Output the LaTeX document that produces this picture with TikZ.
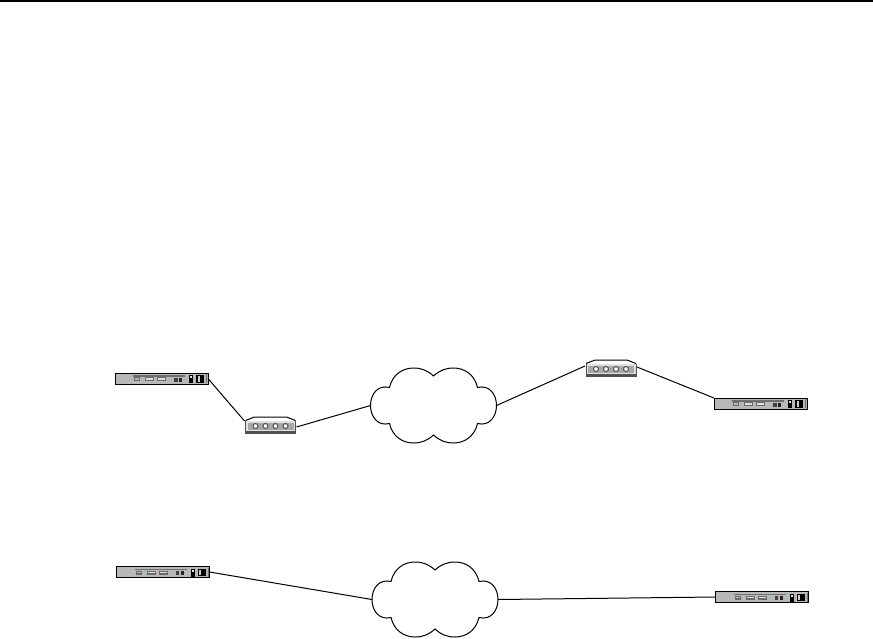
\documentclass[tikz,border=0pt]{standalone}
\usepackage{xcolor}
\usepackage{tikz}
\usetikzlibrary{calc}
\definecolor{boxgray}{HTML}{B8B8B8}
\definecolor{stripegray}{HTML}{6E6E6E}
\definecolor{portgray}{HTML}{6A6A6A}
\definecolor{portwhite}{HTML}{E0E0E0}
\definecolor{ledgreen}{HTML}{8FD08F}
\definecolor{hubgray}{HTML}{A8A8A8}
\definecolor{hubdark}{HTML}{505050}
\tikzstyle{link} = [line width=1pt, black]
\tikzstyle{router} = [rectangle, draw=black, line width=1pt, fill=boxgray, minimum width=93pt, minimum height=11pt, inner sep=0pt, outer sep=0pt,
  path picture={
    \begin{scope}[shift={(path picture bounding box.center)}]
      \fill[stripegray] (-28.5,-3.5) rectangle (23.5,-1.8);
      \fill[portgray] (-27.5,-1.2) rectangle (-21.5,2.8);
      \fill[boxgray] (-26.5,-0.2) rectangle (-22.5,1.2);
      \fill[portgray] (-16.5,-1.2) rectangle (-7.5,2.8);
      \fill[portwhite] (-15.5,-0.2) rectangle (-8.5,1.4);
      \fill[portgray] (-4.5,-1.2) rectangle (4.5,2.8);
      \fill[portwhite] (-3.5,-0.2) rectangle (3.5,1.4);
      \fill[ledgreen] (-20,0) rectangle (-18.5,1.5);
      \fill[ledgreen] (-6.5,0) rectangle (-5,1.5);
      \fill[ledgreen] (6,0) rectangle (7.5,1.5);
      \fill[black!75] (12.5,-1) rectangle (16,3);
      \fill[black!85] (17.5,-1) rectangle (20.5,3);
      \fill[ledgreen] (21.5,0) rectangle (23,1.5);
      \fill[black] (27.5,-3.5) rectangle (31.5,4.5);
      \fill[portwhite] (28.5,-2.5) rectangle (30.5,-0.5);
      \fill[black] (34.5,-3.5) rectangle (42.5,4);
      \fill[boxgray!70] (36,-2.5) rectangle (38,3);
      \fill[stripegray] (44.5,-4.5) rectangle (45.5,4.5);
    \end{scope}
  }]
\tikzstyle{hub} = [rectangle, minimum width=52pt, minimum height=17pt, inner sep=0pt, outer sep=0pt,
  path picture={
    \begin{scope}[shift={(path picture bounding box.center)}]
      \fill[white] (-26,-8.5) rectangle (26,8.5);
      \draw[line width=1pt, fill=white] (-25,-4.5) -- (-16,-8) -- (16,-8) -- (25,-4.5);
      \fill[hubdark] (-25.5,-4.5) rectangle (25.5,8.5);
      \fill[portwhite] (-24.5,-3.7) rectangle (24.5,6);
      \fill[hubgray] (-23,-2.5) rectangle (23,5);
      \foreach \hx in {-15,-5,5,15} {
        \draw[line width=1pt, hubdark, fill=white] (\hx,1) circle (2.5);
      }
    \end{scope}
  }]
\tikzset{netcloud/.pic={
    \draw[link, fill=white] (-63,0)
      .. controls (-63,-11) and (-56,-21) .. (-44,-18)
      .. controls (-41,-31) and (-31,-37.5) .. (-20,-37.5)
      .. controls (-12,-37.5) and (-6,-35) .. (0,-29.5)
      .. controls (6,-35) and (12,-37.5) .. (20,-37.5)
      .. controls (31,-37.5) and (41,-31) .. (44,-18)
      .. controls (56,-21) and (63,-11) .. (63,0)
      .. controls (63,11) and (56,21) .. (44,18)
      .. controls (41,31) and (31,37.5) .. (20,37.5)
      .. controls (12,37.5) and (6,35) .. (0,29.5)
      .. controls (-6,35) and (-12,37.5) .. (-20,37.5)
      .. controls (-31,37.5) and (-41,31) .. (-44,18)
      .. controls (-56,21) and (-63,11) .. (-63,0) -- cycle;
    \coordinate (-west) at (-63,0);
    \coordinate (-east) at (63,0);
}}

\begin{document}
\begin{tikzpicture}[x=1pt, y=-1pt]
    \useasboundingbox (0,0) rectangle (873,638);
    % Top rule
    \fill[black] (0,0) rectangle (873,2);

    % Upper row
    \node[router] (routerA) at (161.5,378.5) {};
    \node[hub] (hubA) at (270.5,425) {};
    \pic (cloudA) at (433.5,405.5) {netcloud};
    \node[hub] (hubB) at (611,368) {};
    \node[router] (routerB) at (760.5,403.5) {};

    % Lower row
    \node[router] (routerC) at (163,572) {};
    \pic (cloudB) at (435,599.5) {netcloud};
    \node[router] (routerD) at (762,597) {};

    % Arrows
    \draw[link] (routerA.east) -- ([yshift=4pt]hubA.west);
    \draw[link] ([yshift=-2pt]hubA.east) -- (cloudA-west);
    \draw[link] (cloudA-east) -- ([yshift=2pt]hubB.west);
    \draw[link] ([yshift=1pt]hubB.east) -- (routerB.north west);
    \draw[link] (routerC.east) -- (cloudB-west);
    \draw[link] (cloudB-east) -- (routerD.west);
\end{tikzpicture}
\end{document}
